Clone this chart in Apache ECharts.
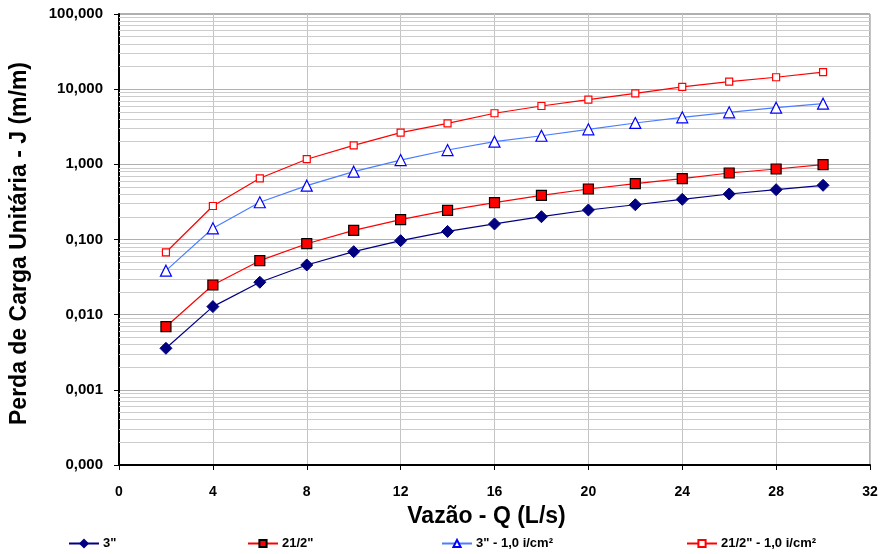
<!DOCTYPE html>
<html>
<head>
<meta charset="utf-8">
<script src="https://cdn.jsdelivr.net/npm/echarts@6/dist/echarts.min.js"></script>
<style>
  html, body { margin: 0; padding: 0; background: #fff; }
  #chart { width: 885px; height: 554px; }
</style>
</head>
<body>
<div id="chart"></div>
<script>
// Flow rate Q (L/s)
const vazao = [2, 4, 6, 8, 10, 12, 14, 16, 18, 20, 22, 24, 26, 28, 30];

// Unit head loss J (m/m) per pipe diameter
const j3pol = [0.00357, 0.0128, 0.0270, 0.0458, 0.0689, 0.0966, 0.128, 0.161, 0.201, 0.247, 0.290, 0.342, 0.403, 0.460, 0.526];
const j212pol = [0.00692, 0.0248, 0.0523, 0.0879, 0.132, 0.184, 0.244, 0.309, 0.387, 0.470, 0.553, 0.645, 0.767, 0.867, 0.990];
const j3polInc = [0.0385, 0.141, 0.313, 0.520, 0.798, 1.14, 1.55, 2.00, 2.40, 2.92, 3.55, 4.22, 4.92, 5.67, 6.41];
const j212polInc = [0.0676, 0.279, 0.652, 1.17, 1.79, 2.64, 3.51, 4.78, 5.97, 7.24, 8.81, 10.7, 12.6, 14.4, 16.9];

const seriesNames = ['3"', '21/2"', '3" - 1,0 i/cm\u00b2', '21/2" - 1,0 i/cm\u00b2'];

// Decades of the logarithmic J axis
const decades = [0.0001, 0.001, 0.01, 0.1, 1, 10];

const pairs = ys => vazao.map((x, i) => [x, ys[i]]);

// Minor grid lines at 2..9 within each decade
const minorLines = [];
decades.forEach(d => { for (let k = 2; k <= 9; k++) minorLines.push({ yAxis: d * k }); });

const font = 'Liberation Sans, Arial, sans-serif';

const chart = echarts.init(document.getElementById('chart'), null, { renderer: 'canvas' });

const legendPos = [68, 247, 441, 686];
const legends = seriesNames.map((n, i) => ({
  data: [n],
  left: legendPos[i],
  top: 537,
  padding: 0,
  itemWidth: 30,
  itemHeight: 9,
  itemGap: 4,
  textStyle: { fontFamily: font, fontWeight: 'bold', fontSize: 13, color: '#000', padding: [0, 0, 0, -1] },
  selectedMode: false
}));

chart.setOption({
  animation: false,
  backgroundColor: '#fff',
  legend: legends,
  grid: {
    left: 119, right: 15, top: 14, bottom: 89,
    show: true, borderColor: '#606060', borderWidth: 1, backgroundColor: '#fff'
  },
  xAxis: {
    type: 'value',
    min: 0, max: 32, interval: 4,
    name: 'Vaz\u00e3o - Q (L/s)',
    nameLocation: 'middle',
    nameGap: 40,
    nameTextStyle: { fontFamily: font, fontWeight: 'bold', fontSize: 23, color: '#000', padding: [0, 16, 0, 0] },
    axisLine: { lineStyle: { color: '#000', width: 2 } },
    axisTick: { show: true, length: 5, lineStyle: { color: '#000' } },
    axisLabel: { fontFamily: font, fontWeight: 'bold', fontSize: 14, color: '#000', margin: 20 },
    splitLine: { show: true, lineStyle: { color: '#c4c4c4', width: 1 } }
  },
  yAxis: {
    type: 'log',
    logBase: 10,
    min: 0.0001, max: 100,
    name: 'Perda de Carga Unit\u00e1ria - J (m/m)',
    nameLocation: 'middle',
    nameGap: 88,
    nameTextStyle: { fontFamily: font, fontWeight: 'bold', fontSize: 23, color: '#000', padding: [0, 8, 0, 0] },
    axisLine: { show: true, lineStyle: { color: '#000', width: 2 } },
    axisTick: { show: true, length: 5, lineStyle: { color: '#000' } },
    axisLabel: {
      fontFamily: font, fontWeight: 'bold', fontSize: 15, color: '#000', margin: 16,
      formatter: v => Number(v).toFixed(3).replace('.', ',')
    },
    splitLine: { show: true, lineStyle: { color: '#b0b0b0', width: 1 } }
  },
  series: [
    {
      name: seriesNames[0], type: 'line', data: pairs(j3pol),
      symbol: 'diamond', symbolSize: 12, showAllSymbol: true,
      lineStyle: { color: '#000080', width: 1.2 },
      itemStyle: { color: '#000080', borderColor: '#000080', borderWidth: 1 },
      z: 5,
      markLine: {
        silent: true, symbol: 'none', animation: false,
        precision: 8,
        label: { show: false },
        lineStyle: { color: '#cccccc', width: 1, type: 'solid' },
        emphasis: { disabled: true },
        data: minorLines,
        z: 1
      }
    },
    {
      name: seriesNames[1], type: 'line', data: pairs(j212pol),
      symbol: 'rect', symbolSize: 10,
      lineStyle: { color: '#ff0000', width: 1.2 },
      itemStyle: { color: '#ff0000', borderColor: '#000', borderWidth: 1.2 },
      z: 5
    },
    {
      name: seriesNames[2], type: 'line', data: pairs(j3polInc),
      symbol: 'triangle', symbolSize: 11,
      lineStyle: { color: '#4a7dff', width: 1.2 },
      itemStyle: { color: '#fff', borderColor: '#0000ff', borderWidth: 1.2 },
      z: 5
    },
    {
      name: seriesNames[3], type: 'line', data: pairs(j212polInc),
      symbol: 'rect', symbolSize: 7,
      lineStyle: { color: '#ff0000', width: 1.2 },
      itemStyle: { color: '#fff', borderColor: '#ff0000', borderWidth: 1.2 },
      z: 5
    }
  ]
});
</script>
</body>
</html>
